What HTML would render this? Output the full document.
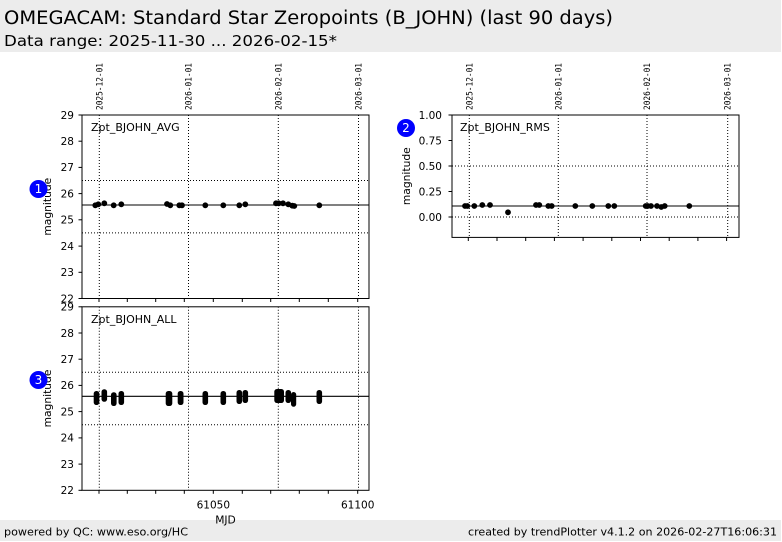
<!DOCTYPE html>
<html><head><meta charset="utf-8"><style>
html,body{margin:0;padding:0;background:#fff;}
svg{display:block;}
text{font-family:"DejaVu Sans","Liberation Sans",sans-serif;fill:#000;}
.mono{font-family:"DejaVu Sans Mono","Liberation Mono",monospace;}
</style></head><body>
<svg width="782" height="542" viewBox="0 0 782 542" xmlns="http://www.w3.org/2000/svg">
<rect x="0" y="0" width="782" height="542" fill="#fff"/>
<!-- header -->
<rect x="0" y="0" width="781" height="52" fill="#ececec"/>
<text x="4" y="24" font-size="18.5" textLength="609" lengthAdjust="spacingAndGlyphs">OMEGACAM: Standard Star Zeropoints (B_JOHN) (last 90 days)</text>
<text x="4" y="46" font-size="15.5" textLength="333" lengthAdjust="spacingAndGlyphs">Data range: 2025-11-30 ... 2026-02-15*</text>
<!-- footer -->
<rect x="0" y="520" width="781" height="21" fill="#ececec"/>
<text x="4" y="535.5" font-size="11" textLength="184" lengthAdjust="spacingAndGlyphs">powered by QC: www.eso.org/HC</text>
<text x="468" y="535.5" font-size="11" textLength="309" lengthAdjust="spacingAndGlyphs">created by trendPlotter v4.1.2 on 2026-02-27T16:06:31</text>

<!-- ================= PANEL 1 ================= -->
<g>
<rect x="82" y="115" width="287" height="183.5" fill="#fff"/>
<g stroke="#000" stroke-width="1" stroke-dasharray="1,2" fill="none">
<line x1="99.3" y1="115" x2="99.3" y2="298.5"/>
<line x1="188.5" y1="115" x2="188.5" y2="298.5"/>
<line x1="278.3" y1="115" x2="278.3" y2="298.5"/>
<line x1="358.5" y1="115" x2="358.5" y2="298.5"/>
<line x1="82" y1="180.5" x2="369" y2="180.5"/>
<line x1="82" y1="232.9" x2="369" y2="232.9"/>
</g>
<line x1="82" y1="205" x2="369" y2="205" stroke="#000" stroke-width="1.1"/>
<g fill="#000">
<circle cx="95.3" cy="205.3" r="2.9"/><circle cx="98.3" cy="204.3" r="2.9"/><circle cx="104.3" cy="203.3" r="2.9"/>
<circle cx="113.7" cy="205.3" r="2.9"/><circle cx="121.3" cy="204.3" r="2.9"/><circle cx="167" cy="204" r="2.9"/>
<circle cx="170.3" cy="205.3" r="2.9"/><circle cx="179.3" cy="205.3" r="2.9"/><circle cx="182" cy="205.3" r="2.9"/>
<circle cx="205.3" cy="205.3" r="2.9"/><circle cx="223.3" cy="205.3" r="2.9"/><circle cx="239.3" cy="205.3" r="2.9"/>
<circle cx="245.3" cy="204.3" r="2.9"/><circle cx="276" cy="203.3" r="2.9"/><circle cx="278.7" cy="203.3" r="2.9"/>
<circle cx="283" cy="203.3" r="2.9"/><circle cx="288.3" cy="204.3" r="2.9"/><circle cx="292.3" cy="205.7" r="2.9"/>
<circle cx="294.3" cy="206" r="2.9"/><circle cx="319.3" cy="205.3" r="2.9"/>
</g>
<rect x="82" y="115" width="287" height="183.5" fill="none" stroke="#000" stroke-width="1"/>
<g stroke="#000" stroke-width="1">
<line x1="78.5" y1="115" x2="82" y2="115"/><line x1="78.5" y1="141.2" x2="82" y2="141.2"/>
<line x1="78.5" y1="167.4" x2="82" y2="167.4"/><line x1="78.5" y1="193.6" x2="82" y2="193.6"/>
<line x1="78.5" y1="219.8" x2="82" y2="219.8"/><line x1="78.5" y1="246.1" x2="82" y2="246.1"/>
<line x1="78.5" y1="272.3" x2="82" y2="272.3"/><line x1="78.5" y1="298.5" x2="82" y2="298.5"/>
<line x1="99" y1="298.5" x2="99" y2="302"/><line x1="127.3" y1="298.5" x2="127.3" y2="302"/>
<line x1="155.7" y1="298.5" x2="155.7" y2="302"/><line x1="184.3" y1="298.5" x2="184.3" y2="302"/>
<line x1="213.3" y1="298.5" x2="213.3" y2="302"/><line x1="242.3" y1="298.5" x2="242.3" y2="302"/>
<line x1="270.7" y1="298.5" x2="270.7" y2="302"/><line x1="299.3" y1="298.5" x2="299.3" y2="302"/>
<line x1="328.3" y1="298.5" x2="328.3" y2="302"/><line x1="357.7" y1="298.5" x2="357.7" y2="302"/>
</g>
<g font-size="10.5" text-anchor="end">
<text x="74" y="118.8">29</text><text x="74" y="145">28</text><text x="74" y="171.2">27</text>
<text x="74" y="197.4">26</text><text x="74" y="223.6">25</text><text x="74" y="249.9">24</text>
<text x="74" y="276.1">23</text><text x="74" y="302.3">22</text>
</g>
<text x="91" y="131" font-size="11">Zpt_BJOHN_AVG</text>
<g font-size="8.5" text-anchor="start">
<text class="mono" transform="translate(102.3,110) rotate(-90)" textLength="47" lengthAdjust="spacingAndGlyphs">2025-12-01</text>
<text class="mono" transform="translate(191.5,110) rotate(-90)" textLength="47" lengthAdjust="spacingAndGlyphs">2026-01-01</text>
<text class="mono" transform="translate(281.3,110) rotate(-90)" textLength="47" lengthAdjust="spacingAndGlyphs">2026-02-01</text>
<text class="mono" transform="translate(361.5,110) rotate(-90)" textLength="47" lengthAdjust="spacingAndGlyphs">2026-03-01</text>
</g>
<text transform="translate(51,206.7) rotate(-90)" font-size="10.7" text-anchor="middle">magnitude</text>
<circle cx="38.5" cy="189" r="9" fill="#0000ff"/>
<text x="38.5" y="193.2" font-size="12" text-anchor="middle" style="fill:#fff">1</text>
</g>

<!-- ================= PANEL 2 ================= -->
<g>
<rect x="452" y="115" width="287" height="122.4" fill="#fff"/>
<g stroke="#000" stroke-width="1" stroke-dasharray="1,2" fill="none">
<line x1="469.3" y1="115" x2="469.3" y2="237.4"/>
<line x1="558.3" y1="115" x2="558.3" y2="237.4"/>
<line x1="647" y1="115" x2="647" y2="237.4"/>
<line x1="727.7" y1="115" x2="727.7" y2="237.4"/>
<line x1="452" y1="166" x2="739" y2="166"/>
<line x1="452" y1="217" x2="739" y2="217"/>
</g>
<line x1="452" y1="206" x2="739" y2="206" stroke="#000" stroke-width="1.1"/>
<g fill="#000">
<circle cx="465" cy="206" r="2.9"/><circle cx="467.3" cy="206" r="2.9"/><circle cx="474.3" cy="206" r="2.9"/>
<circle cx="482.3" cy="205" r="2.9"/><circle cx="490" cy="205" r="2.9"/><circle cx="508" cy="212.3" r="2.9"/>
<circle cx="536" cy="205" r="2.9"/><circle cx="539.3" cy="205" r="2.9"/><circle cx="548.3" cy="206" r="2.9"/>
<circle cx="551.7" cy="206" r="2.9"/><circle cx="575.3" cy="206" r="2.9"/><circle cx="592.3" cy="206" r="2.9"/>
<circle cx="608.3" cy="206" r="2.9"/><circle cx="614.3" cy="206" r="2.9"/><circle cx="645.7" cy="206" r="2.9"/>
<circle cx="647.7" cy="206" r="2.9"/><circle cx="651" cy="206" r="2.9"/><circle cx="657" cy="206" r="2.9"/>
<circle cx="661.3" cy="207" r="2.9"/><circle cx="664.7" cy="206" r="2.9"/><circle cx="689.3" cy="206" r="2.9"/>
</g>
<rect x="452" y="115" width="287" height="122.4" fill="none" stroke="#000" stroke-width="1"/>
<g stroke="#000" stroke-width="1">
<line x1="448.5" y1="115" x2="452" y2="115"/><line x1="448.5" y1="140.5" x2="452" y2="140.5"/>
<line x1="448.5" y1="166" x2="452" y2="166"/><line x1="448.5" y1="191.5" x2="452" y2="191.5"/>
<line x1="448.5" y1="217" x2="452" y2="217"/>
<line x1="468.3" y1="237.4" x2="468.3" y2="241"/><line x1="497" y1="237.4" x2="497" y2="241"/>
<line x1="525.7" y1="237.4" x2="525.7" y2="241"/><line x1="554.4" y1="237.4" x2="554.4" y2="241"/>
<line x1="583.1" y1="237.4" x2="583.1" y2="241"/><line x1="611.8" y1="237.4" x2="611.8" y2="241"/>
<line x1="640.5" y1="237.4" x2="640.5" y2="241"/><line x1="669.2" y1="237.4" x2="669.2" y2="241"/>
<line x1="697.9" y1="237.4" x2="697.9" y2="241"/><line x1="726.6" y1="237.4" x2="726.6" y2="241"/>
</g>
<g font-size="10.5" text-anchor="end">
<text x="442" y="118.8">1.00</text><text x="442" y="144.3">0.75</text><text x="442" y="169.8">0.50</text>
<text x="442" y="195.3">0.25</text><text x="442" y="220.8">0.00</text>
</g>
<text x="460" y="131" font-size="11">Zpt_BJOHN_RMS</text>
<g font-size="8.5" text-anchor="start">
<text class="mono" transform="translate(472.3,110) rotate(-90)" textLength="47" lengthAdjust="spacingAndGlyphs">2025-12-01</text>
<text class="mono" transform="translate(561.3,110) rotate(-90)" textLength="47" lengthAdjust="spacingAndGlyphs">2026-01-01</text>
<text class="mono" transform="translate(650,110) rotate(-90)" textLength="47" lengthAdjust="spacingAndGlyphs">2026-02-01</text>
<text class="mono" transform="translate(730.7,110) rotate(-90)" textLength="47" lengthAdjust="spacingAndGlyphs">2026-03-01</text>
</g>
<text transform="translate(410,176.2) rotate(-90)" font-size="10.7" text-anchor="middle">magnitude</text>
<circle cx="406" cy="128" r="9" fill="#0000ff"/>
<text x="406" y="132.2" font-size="12" text-anchor="middle" style="fill:#fff">2</text>
</g>

<!-- ================= PANEL 3 ================= -->
<g>
<rect x="82" y="306.8" width="287" height="183.5" fill="#fff"/>
<g stroke="#000" stroke-width="1" stroke-dasharray="1,2" fill="none">
<line x1="99.3" y1="306.8" x2="99.3" y2="490.3"/>
<line x1="188.5" y1="306.8" x2="188.5" y2="490.3"/>
<line x1="278.3" y1="306.8" x2="278.3" y2="490.3"/>
<line x1="358.5" y1="306.8" x2="358.5" y2="490.3"/>
<line x1="82" y1="372.3" x2="369" y2="372.3"/>
<line x1="82" y1="424.7" x2="369" y2="424.7"/>
</g>
<line x1="82" y1="396.3" x2="369" y2="396.3" stroke="#000" stroke-width="1.1"/>
<g fill="#000">
<rect x="93.7" y="391" width="5.6" height="14" rx="2.6"/>
<rect x="101.5" y="389.3" width="5.6" height="12.4" rx="2.6"/>
<rect x="111" y="392.3" width="5.6" height="13.7" rx="2.6"/>
<rect x="118.5" y="391" width="5.6" height="14" rx="2.6"/>
<rect x="165.7" y="391" width="6.6" height="15" rx="2.6"/>
<rect x="177.7" y="391" width="5.8" height="14" rx="2.6"/>
<rect x="202.5" y="391" width="5.6" height="14" rx="2.6"/>
<rect x="220.5" y="391" width="5.6" height="14" rx="2.6"/>
<rect x="236.5" y="390" width="5.6" height="14" rx="2.6"/>
<rect x="242.5" y="390" width="5.6" height="13" rx="2.6"/>
<rect x="274.3" y="389" width="9.7" height="14" rx="2.6"/>
<rect x="285.5" y="390" width="5.6" height="13" rx="2.6"/>
<rect x="291" y="392" width="5.2" height="14.7" rx="2.6"/>
<rect x="316.5" y="390" width="5.6" height="14" rx="2.6"/>
</g>
<rect x="82" y="306.8" width="287" height="183.5" fill="none" stroke="#000" stroke-width="1"/>
<g stroke="#000" stroke-width="1">
<line x1="78.5" y1="306.8" x2="82" y2="306.8"/><line x1="78.5" y1="333" x2="82" y2="333"/>
<line x1="78.5" y1="359.2" x2="82" y2="359.2"/><line x1="78.5" y1="385.4" x2="82" y2="385.4"/>
<line x1="78.5" y1="411.6" x2="82" y2="411.6"/><line x1="78.5" y1="437.9" x2="82" y2="437.9"/>
<line x1="78.5" y1="464.1" x2="82" y2="464.1"/><line x1="78.5" y1="490.3" x2="82" y2="490.3"/>
<line x1="99" y1="490.3" x2="99" y2="493.8"/><line x1="127.3" y1="490.3" x2="127.3" y2="493.8"/>
<line x1="155.7" y1="490.3" x2="155.7" y2="493.8"/><line x1="184.3" y1="490.3" x2="184.3" y2="493.8"/>
<line x1="213.3" y1="490.3" x2="213.3" y2="493.8"/><line x1="242.3" y1="490.3" x2="242.3" y2="493.8"/>
<line x1="270.7" y1="490.3" x2="270.7" y2="493.8"/><line x1="299.3" y1="490.3" x2="299.3" y2="493.8"/>
<line x1="328.3" y1="490.3" x2="328.3" y2="493.8"/><line x1="357.7" y1="490.3" x2="357.7" y2="493.8"/>
</g>
<g font-size="10.5" text-anchor="end">
<text x="74" y="310.6">29</text><text x="74" y="336.8">28</text><text x="74" y="363">27</text>
<text x="74" y="389.2">26</text><text x="74" y="415.4">25</text><text x="74" y="441.7">24</text>
<text x="74" y="467.9">23</text><text x="74" y="494.1">22</text>
</g>
<g font-size="10.5" text-anchor="middle">
<text x="213.3" y="508.5">61050</text>
<text x="357.7" y="508.5">61100</text>
</g>
<text x="91" y="323" font-size="11">Zpt_BJOHN_ALL</text>
<text transform="translate(51,398.5) rotate(-90)" font-size="10.7" text-anchor="middle">magnitude</text>
<circle cx="38.5" cy="380" r="9" fill="#0000ff"/>
<text x="38.5" y="384.2" font-size="12" text-anchor="middle" style="fill:#fff">3</text>
</g>
<text x="225.5" y="523.5" font-size="10.7" text-anchor="middle">MJD</text>
</svg>
</body></html>
